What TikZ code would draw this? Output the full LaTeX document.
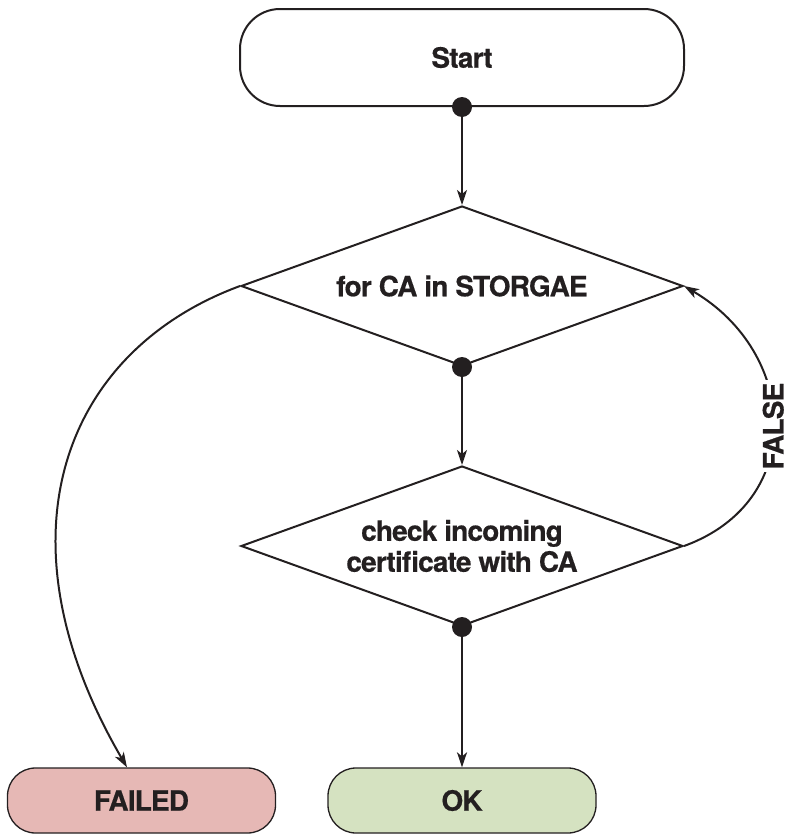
\documentclass[tikz,border=0pt]{standalone}
\usepackage{fontspec}
\setmainfont{TeX Gyre Heros}[BoldFeatures={FakeBold=0.5}, LetterSpace=-3]
\usetikzlibrary{shapes.geometric, arrows.meta}
\definecolor{ink}{HTML}{231F20}
\definecolor{failfill}{HTML}{E6B8B5}
\definecolor{okfill}{HTML}{D5E2C1}

\begin{document}
\begin{tikzpicture}[x=1pt, y=-1pt,
  every node/.style={font=\bfseries\fontsize{28}{31}\selectfont, text=ink},
  terminal/.style={draw=ink, line width=2pt, rounded corners=40pt,
    minimum width=444pt, minimum height=97pt, inner sep=0pt},
  decision/.style={draw=ink, line width=2pt, diamond, aspect=2.76,
    minimum width=442pt, minimum height=160pt, inner sep=0pt, align=center},
  result/.style={draw=ink, line width=1.3pt, rounded corners=28pt,
    minimum width=268pt, minimum height=65pt, inner sep=0pt},
  flow/.style={draw=ink, line width=2pt,
    -{Stealth[length=15pt,width=10pt,inset=4pt]}},
  joint/.style={circle, fill=ink, minimum size=20pt, inner sep=0pt}
]
\useasboundingbox (0,0) rectangle (786,835);

% process nodes
\node[terminal] (start) at (462,57.5) {Start};
\node[decision] (loop) at (462,286) {for CA in STORGAE};
\node[decision] (check) at (462,546) {check incoming\\certificate with CA};
\node[result, fill=failfill] (failed) at (141.5,800.5) {FAILED};
\node[result, fill=okfill] (ok) at (462,800.5) {OK};

% main flow
\draw[flow] (start.south) -- (loop.north);
\draw[flow] (loop.south) -- (check.north);
\draw[flow] (check.south) -- (ok.north);

% loop exhausted -> FAILED
\draw[flow] (loop.west) .. controls (64,351) and (-8,536) .. ([xshift=-14.5pt]failed.north);

% check failed -> next CA
\draw[flow] (check.east) .. controls (808,501) and (798,352.5) .. (loop.east)
  node[pos=0.5, rotate=90, fill=white, inner sep=3pt, xshift=-2pt] (falselbl) {FALSE};

% junction dots
\node[joint] (j1) at (start.south) {};
\node[joint] (j2) at (loop.south) {};
\node[joint] (j3) at (check.south) {};
\end{tikzpicture}
\end{document}
